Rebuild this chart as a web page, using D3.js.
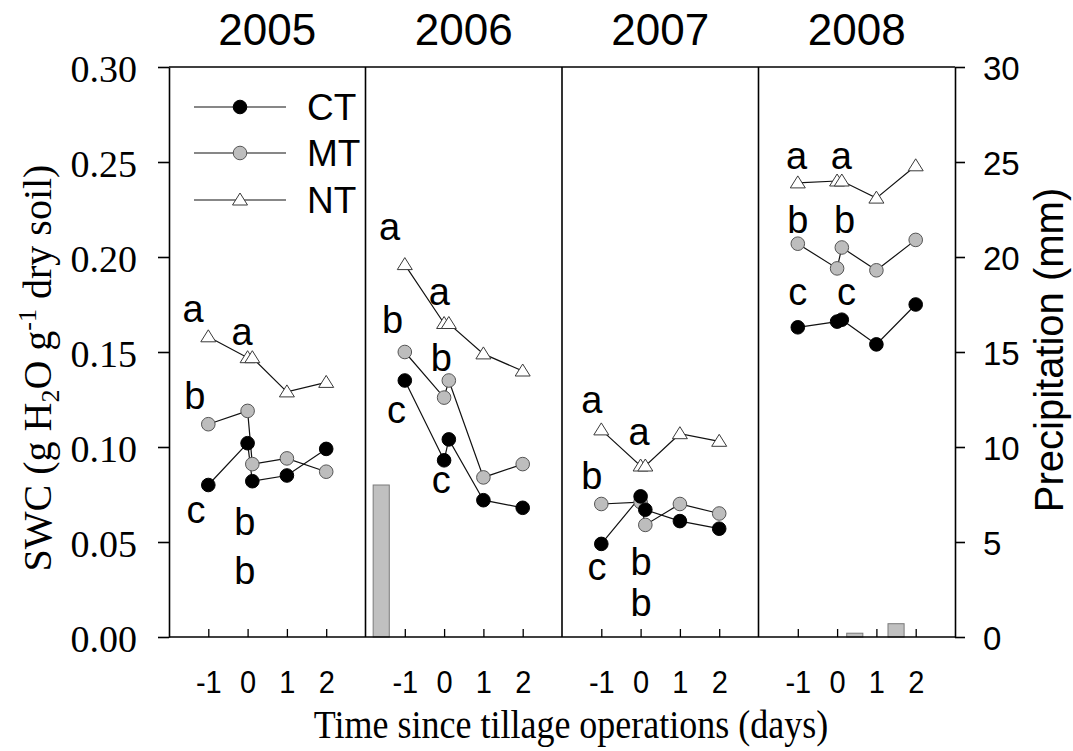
<!DOCTYPE html>
<html><head><meta charset="utf-8">
<script src="https://cdn.jsdelivr.net/npm/d3@7"></script>
<style>body{margin:0;background:#fff;}</style>
</head><body>
<svg id="chart" width="1073" height="751"></svg>
<script>
// ---------------- data ----------------
const years = ["2005", "2006", "2007", "2008"];
const days = [-1, 0, 0.12, 1, 2];           // day 0 measured twice (before / after tillage)
const xTicks = [-1, 0, 1, 2];
const xTickLabels = ["-1", "0", "1", "2"];
const swcTicks = [0, 0.05, 0.10, 0.15, 0.20, 0.25, 0.30];
const precipTicks = [0, 5, 10, 15, 20, 25, 30];
const seriesNames = ["CT", "MT", "NT"];

const ctSWC = [
  [0.080, 0.102, 0.082, 0.085, 0.099],
  [0.135, 0.093, 0.104, 0.072, 0.068],
  [0.049, 0.074, 0.067, 0.061, 0.057],
  [0.163, 0.166, 0.167, 0.154, 0.175]
];
const mtSWC = [
  [0.112, 0.119, 0.091, 0.094, 0.087],
  [0.150, 0.126, 0.135, 0.084, 0.091],
  [0.070, 0.071, 0.059, 0.070, 0.065],
  [0.207, 0.194, 0.205, 0.193, 0.209]
];
const ntSWC = [
  [0.158, 0.147, 0.147, 0.129, 0.134],
  [0.196, 0.165, 0.165, 0.149, 0.140],
  [0.109, 0.090, 0.090, 0.107, 0.103],
  [0.239, 0.240, 0.240, 0.231, 0.248]
];

const precipDays = [[], [-1.6], [], [0.45, 1.5]];
const precipMM = [[], [8.0], [], [0.2, 0.7]];

const letterText = [
  ["a", "a", "b", "c", "b", "b"],
  ["a", "a", "b", "b", "c", "c"],
  ["a", "a", "b", "c", "b", "b"],
  ["a", "a", "b", "b", "c", "c"]
];
const letterDay = [
  [-1.39, -0.14, -1.34, -1.31, -0.07, -0.07],
  [-1.39, -0.12, -1.31, -0.07, -1.21, -0.07],
  [-1.24, -0.04, -1.24, -1.11, 0.01, 0.01],
  [-1.03, 0.11, -1.0, 0.19, -1.0, 0.24]
];
const letterSWC = [
  [0.171, 0.159, 0.127, 0.065, 0.061, 0.035],
  [0.214, 0.180, 0.167, 0.147, 0.118, 0.081],
  [0.123, 0.106, 0.085, 0.035, 0.040, 0.018],
  [0.2515, 0.2515, 0.220, 0.220, 0.180, 0.180]
];

// ---------------- layout ----------------
const L = 169, R = 955, T = 67, B = 637;
const panelW = (R - L) / years.length;
const SANS = "'Liberation Sans', Arial, sans-serif";
const SERIF = "'Liberation Serif', 'Times New Roman', serif";

const svg = d3.select("#chart");
const y = d3.scaleLinear().domain([0, 0.30]).range([B, T]);
const yR = d3.scaleLinear().domain([0, 30]).range([B, T]);

const styleFor = {
  CT: { fill: "#000000", stroke: "#000000", shape: "circle" },
  MT: { fill: "#bdbdbd", stroke: "#555555", shape: "circle" },
  NT: { fill: "#ffffff", stroke: "#3a3a3a", shape: "triangle" }
};
const triPath = "M0,-7L7.5,5L-7.5,5Z";

function marker(g, name, cx, cy) {
  const s = styleFor[name];
  if (s.shape === "circle") {
    g.append("circle").attr("cx", cx).attr("cy", cy).attr("r", 6.8)
      .attr("fill", s.fill).attr("stroke", s.stroke).attr("stroke-width", 1);
  } else {
    g.append("path").attr("d", triPath).attr("transform", `translate(${cx},${cy})`)
      .attr("fill", s.fill).attr("stroke", s.stroke).attr("stroke-width", 1);
  }
}

const allSeries = { CT: ctSWC, MT: mtSWC, NT: ntSWC };

years.forEach((yr, i) => {
  const x0 = L + i * panelW;
  const x = d3.scaleLinear().domain([-2, 3]).range([x0, x0 + panelW]);
  const g = svg.append("g");

  // precipitation bars
  const bw = x(0.41) - x(0);
  precipDays[i].forEach((d, k) => {
    g.append("rect")
      .attr("x", x(d) - bw / 2).attr("y", yR(precipMM[i][k]))
      .attr("width", bw).attr("height", B - yR(precipMM[i][k]))
      .attr("fill", "#c0c0c0").attr("stroke", "#7a7a7a").attr("stroke-width", 1);
  });

  // series lines then markers (NT, MT, CT order so CT on top)
  ["NT", "MT", "CT"].forEach(name => {
    const vals = allSeries[name][i];
    const pts = days.map((d, k) => [x(d), y(vals[k])]);
    g.append("path").attr("d", d3.line()(pts))
      .attr("fill", "none").attr("stroke", "#111").attr("stroke-width", 1.2);
  });
  ["NT", "MT", "CT"].forEach(name => {
    const vals = allSeries[name][i];
    days.forEach((d, k) => marker(g, name, x(d), y(vals[k])));
  });

  // significance letters
  letterText[i].forEach((t, k) => {
    const off = t === "b" ? 0.36 : 0.26;
    g.append("text").text(t)
      .attr("x", x(letterDay[i][k])).attr("y", y(letterSWC[i][k]))
      .attr("dy", off + "em")
      .attr("text-anchor", "middle")
      .style("font-family", SANS).style("font-size", "38px").attr("fill", "#000");
  });

  // bottom axis (ticks inward)
  const ax = g.append("g").attr("transform", `translate(0,${B})`)
    .call(d3.axisBottom(x).tickValues(xTicks).tickSize(-8).tickSizeOuter(0)
      .tickFormat((d, k) => xTickLabels[k]));
  ax.select(".domain").remove();
  ax.selectAll(".tick line").attr("stroke", "#000").attr("stroke-width", 1.3);
  ax.selectAll(".tick text").attr("y", 0).attr("dy", 0)
    .attr("transform", "translate(0,56) scale(1,1.1)")
    .style("font-family", SANS).style("font-size", "29px").attr("fill", "#000");

  // year title
  svg.append("text").text(yr)
    .attr("x", x0 + panelW / 2).attr("y", 45)
    .attr("text-anchor", "middle")
    .style("font-family", SANS).style("font-size", "44px").attr("fill", "#000");

  // panel divider
  if (i > 0) {
    svg.append("line").attr("x1", x0).attr("x2", x0).attr("y1", T).attr("y2", B)
      .attr("stroke", "#000").attr("stroke-width", 1.6);
  }
});

// frame lines top/bottom
svg.append("line").attr("x1", L).attr("x2", R).attr("y1", T).attr("y2", T)
  .attr("stroke", "#000").attr("stroke-width", 1.6);
svg.append("line").attr("x1", L).attr("x2", R).attr("y1", B).attr("y2", B)
  .attr("stroke", "#000").attr("stroke-width", 1.6);

// left axis
const la = svg.append("g").attr("transform", `translate(${L},0)`)
  .call(d3.axisLeft(y).tickValues(swcTicks).tickSize(11).tickSizeOuter(0)
    .tickPadding(21).tickFormat(d3.format(".2f")));
la.select(".domain").attr("stroke", "#000").attr("stroke-width", 1.6);
la.selectAll(".tick line").attr("stroke", "#000").attr("stroke-width", 1.6);
la.selectAll(".tick text").attr("dy", "0.36em").attr("y", 1)
  .style("font-family", SERIF).style("font-size", "38px").attr("fill", "#000");

// right axis
const ra = svg.append("g").attr("transform", `translate(${R},0)`)
  .call(d3.axisRight(yR).tickValues(precipTicks).tickSize(10).tickSizeOuter(0)
    .tickPadding(18).tickFormat(d3.format("d")));
ra.select(".domain").attr("stroke", "#000").attr("stroke-width", 1.6);
ra.selectAll(".tick line").attr("stroke", "#000").attr("stroke-width", 1.6);
ra.selectAll(".tick text").attr("dy", "0.36em").attr("y", 1)
  .style("font-family", SANS).style("font-size", "33px").attr("fill", "#000");

// axis titles
svg.append("text")
  .attr("transform", "translate(571,738) scale(1,1.12)")
  .attr("text-anchor", "middle")
  .style("font-family", SERIF).style("font-size", "36px").attr("fill", "#000")
  .text("Time since tillage operations (days)");

const yl = svg.append("text")
  .attr("transform", "translate(51,368) rotate(-90)")
  .attr("text-anchor", "middle")
  .style("font-family", SERIF).style("font-size", "40px").attr("fill", "#000");
yl.append("tspan").text("SWC (g H");
yl.append("tspan").text("2").attr("dy", 8).style("font-size", "26px");
yl.append("tspan").text("O g").attr("dy", -8);
yl.append("tspan").text("-1").attr("dy", -15).style("font-size", "26px");
yl.append("tspan").text(" dry soil)").attr("dy", 15);

svg.append("text")
  .attr("transform", "translate(1063,350) rotate(-90)")
  .attr("text-anchor", "middle")
  .style("font-family", SANS).style("font-size", "40px").attr("fill", "#000")
  .text("Precipitation (mm)");

// legend
const legY = [107, 153, 200];
seriesNames.forEach((name, k) => {
  const lg = svg.append("g");
  lg.append("line").attr("x1", 194).attr("x2", 286).attr("y1", legY[k]).attr("y2", legY[k])
    .attr("stroke", "#111").attr("stroke-width", 1.2);
  marker(lg, name, 240, legY[k]);
  lg.append("text").text(name).attr("x", 307).attr("y", legY[k]).attr("dy", "0.36em")
    .style("font-family", SANS).style("font-size", "37px").attr("fill", "#000");
});
</script>
</body></html>
